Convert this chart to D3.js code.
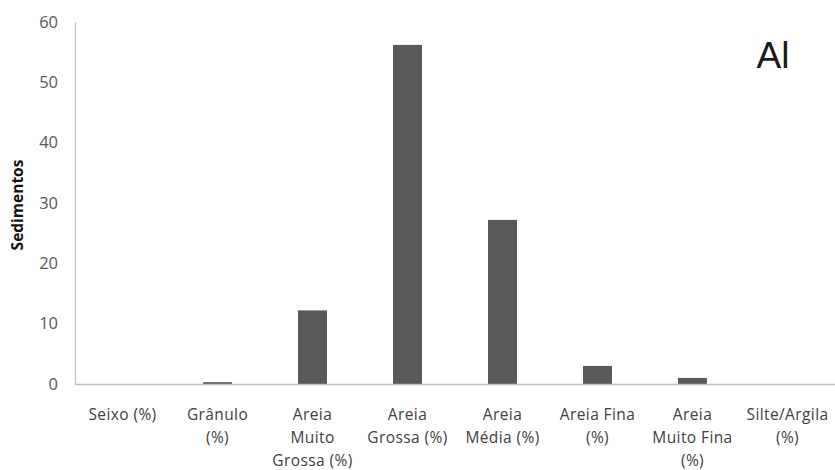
<!DOCTYPE html>
<html><head><meta charset="utf-8">
<script src="https://cdn.jsdelivr.net/npm/d3@7"></script>
<style>body{margin:0;background:#fff}</style>
</head><body><svg id="c" width="835" height="470"></svg>
<script>
const categories = ["Seixo (%)","Grânulo (%)","Areia Muito Grossa (%)","Areia Grossa (%)","Areia Média (%)","Areia Fina (%)","Areia Muito Fina (%)","Silte/Argila (%)"];
const labelLines = [["Seixo (%)"],["Grânulo","(%)"],["Areia","Muito","Grossa (%)"],["Areia","Grossa (%)"],["Areia","Média (%)"],["Areia Fina","(%)"],["Areia","Muito Fina","(%)"],["Silte/Argila","(%)"]];
const values = [0, 0.3, 12.2, 56.2, 27.2, 3.0, 1.0, 0];
const yTicks = [0,10,20,30,40,50,60];
const yTitle = "Sedimentos";
const panel = "Al";

const svg = d3.select("#c");
const m = {l:75, r:0, t:22, b:86};
const W = 835, H = 470;
const x = d3.scaleBand().domain(categories).range([m.l, W-m.r]).paddingInner(0.695).paddingOuter(0.3475);
const y = d3.scaleLinear().domain([0,60]).range([H-m.b, m.t]);

svg.selectAll("rect.bar").data(values).join("rect")
  .attr("class","bar")
  .attr("x",(d,i)=>x(categories[i]))
  .attr("width",x.bandwidth())
  .attr("y",d=>y(d))
  .attr("height",d=>y(0)-y(d))
  .attr("fill","#595959");

const yAxis = svg.append("g").attr("transform",`translate(${m.l},0)`)
  .call(d3.axisLeft(y).tickValues(yTicks).tickSize(0).tickPadding(17));
yAxis.select(".domain").attr("stroke","#bfbfbf").attr("stroke-width",1.3);
yAxis.selectAll("text").attr("font-family","Open Sans, sans-serif").attr("font-size",16.5).attr("fill","#595959");

const xAxis = svg.append("g").attr("transform",`translate(0,${y(0)})`)
  .call(d3.axisBottom(x).tickSize(0).tickFormat(""));
xAxis.select(".domain").attr("stroke","#bfbfbf").attr("stroke-width",1.3);
xAxis.selectAll(".tick").each(function(d,i){
  const t = d3.select(this).append("text")
    .attr("fill","#404040").attr("font-family","Open Sans, sans-serif").attr("font-size",15.5)
    .attr("letter-spacing",0.4)
    .attr("text-anchor","middle");
  labelLines[i].forEach((ln,j)=>{
    t.append("tspan").attr("x",0).attr("y",36 + j*23).text(ln);
  });
});

svg.append("text").attr("transform","translate(23,205) rotate(-90)")
  .attr("text-anchor","middle").attr("font-family","Open Sans, sans-serif")
  .attr("font-weight","bold").attr("font-size",15.5).attr("fill","#111").text(yTitle);

svg.append("text").attr("x",773).attr("y",68).attr("text-anchor","middle")
  .attr("font-family","Liberation Sans, Arial, sans-serif").attr("font-size",37).attr("fill","#1a1a1a").text(panel);
</script></body></html>
